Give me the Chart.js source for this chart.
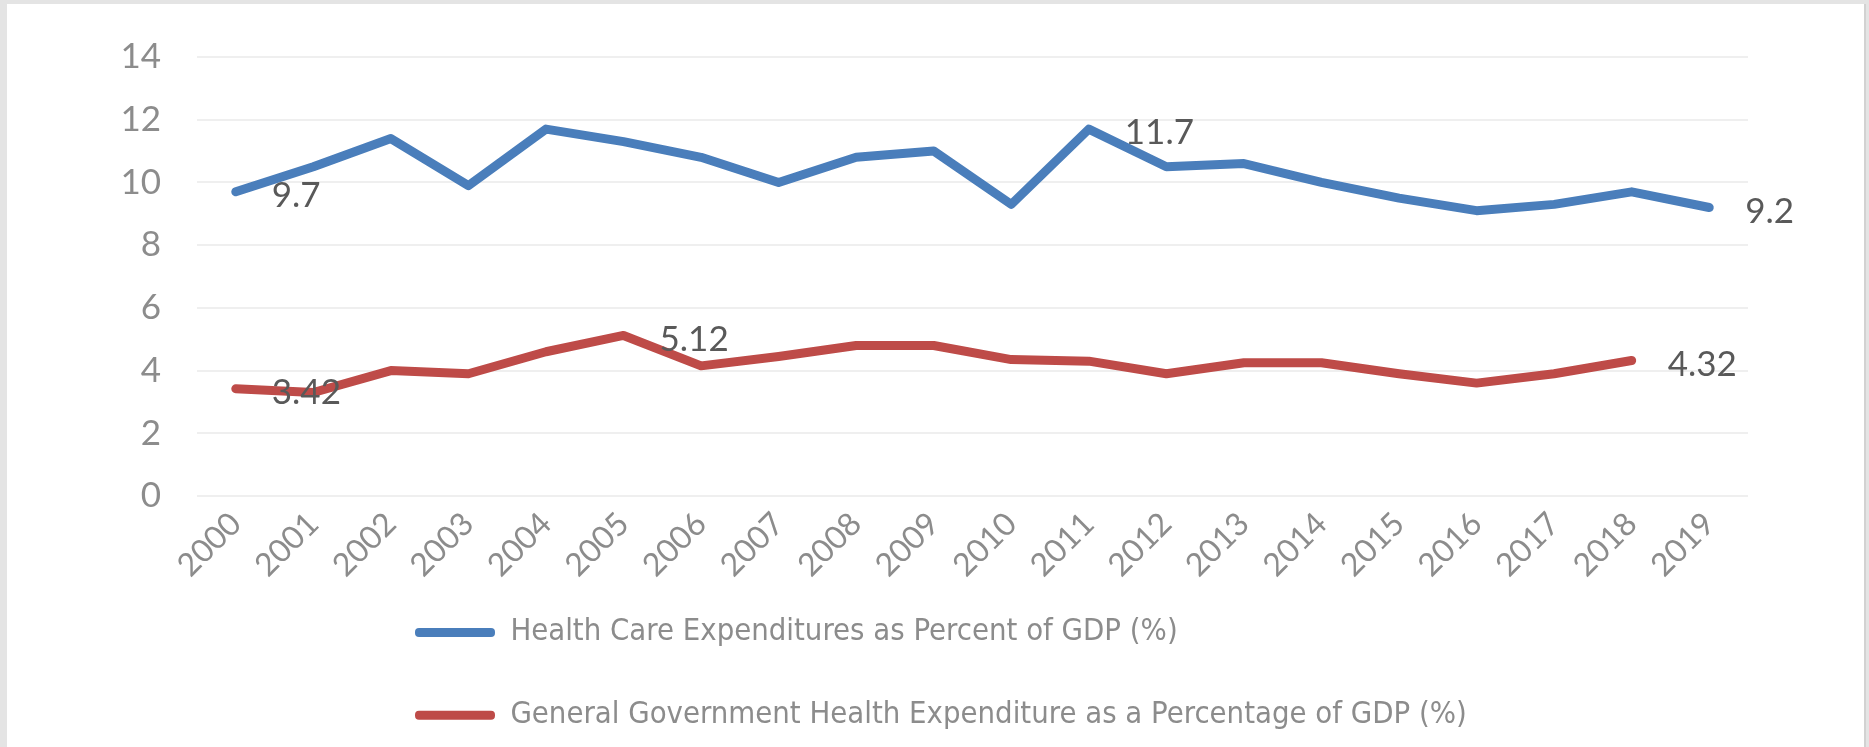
<!DOCTYPE html>
<html>
<head>
<meta charset="utf-8">
<script src="https://cdn.jsdelivr.net/npm/chart.js@4/dist/chart.umd.min.js"></script>
<style>
  html, body { margin: 0; padding: 0; background: #e4e4e4; }
  #frame { position: absolute; left: 7px; top: 4px; width: 1857px; height: 743px; background: #ffffff; border-right: 2px solid #d2d2d2; }
  #wrap { position: absolute; left: 0; top: 0; width: 1869px; height: 747px; }
</style>
</head>
<body>
<div id="frame"></div>
<div id="wrap"><canvas id="c"></canvas></div>
<script>
const years = ['2000','2001','2002','2003','2004','2005','2006','2007','2008','2009',
               '2010','2011','2012','2013','2014','2015','2016','2017','2018','2019'];
const healthCareExp = [9.7, 10.5, 11.4, 9.9, 11.7, 11.3, 10.8, 10.0, 10.8, 11.0,
                       9.3, 11.7, 10.5, 10.6, 10.0, 9.5, 9.1, 9.3, 9.7, 9.2];
const govHealthExp = [3.42, 3.3, 4.0, 3.9, 4.6, 5.12, 4.15, 4.45, 4.8, 4.8,
                      4.35, 4.3, 3.9, 4.25, 4.25, 3.9, 3.6, 3.9, 4.32, null];
const seriesNames = ['Health Care Expenditures as Percent of GDP (%)',
                     'General Government Health Expenditure as a Percentage of GDP (%)'];
const labelledIdx = [[0, 11, 19], [0, 5, 18]];
const yTicks = [0, 2, 4, 6, 8, 10, 12, 14];

const tickFont = { family: 'Lato, "Open Sans", sans-serif', size: 35 };

const dataLabelPlugin = {
  id: 'dataLabels',
  afterDatasetsDraw(chart) {
    const ctx = chart.ctx;
    ctx.save();
    ctx.font = '35px Lato, "Open Sans", sans-serif';
    ctx.fillStyle = '#595959';
    ctx.textAlign = 'left';
    ctx.textBaseline = 'middle';
    chart.data.datasets.forEach((ds, di) => {
      const meta = chart.getDatasetMeta(di);
      labelledIdx[di].forEach(j => {
        const pt = meta.data[j];
        if (!pt || ds.data[j] == null) return;
        ctx.fillText(String(ds.data[j]), pt.x + 36, pt.y + 4);
      });
    });
    ctx.restore();
  }
};

const legendPlace = {
  id: 'legendPlace',
  beforeLayout(chart) {
    const lg = chart.legend;
    if (lg && !lg._fitPatched) {
      const origFit = lg.fit.bind(lg);
      lg.fit = function () { origFit(); this.height = 141; };
      lg._fitPatched = true;
    }
  },
  beforeDraw(chart) {
    if (chart.legend) { chart.legend.left = 363; chart.legend.top = 565; }
  }
};

new Chart(document.getElementById('c'), {
  type: 'line',
  data: {
    labels: years,
    datasets: [
      { label: seriesNames[0], data: healthCareExp, borderColor: '#4A7EBB', backgroundColor: '#4A7EBB',
        borderWidth: 9, pointRadius: 0, tension: 0, borderCapStyle: 'round', borderJoinStyle: 'round' },
      { label: seriesNames[1], data: govHealthExp, borderColor: '#BE4B48', backgroundColor: '#BE4B48',
        borderWidth: 9, pointRadius: 0, tension: 0, borderCapStyle: 'round', borderJoinStyle: 'round' }
    ]
  },
  options: {
    responsive: true,
    maintainAspectRatio: false,
    animation: false,
    devicePixelRatio: 1,
    layout: { padding: { top: 48, right: 121, left: 0, bottom: 0 } },
    scales: {
      x: {
        type: 'category',
        offset: true,
        grid: { display: false, drawTicks: false },
        border: { display: false },
        ticks: { font: { family: 'Lato, "Open Sans", sans-serif', size: 32 }, color: '#8c8c8c',
                 maxRotation: 45, minRotation: 45, padding: 9 },
        afterFit(scale) { scale.height = 110; }
      },
      y: {
        min: 0, max: 14,
        afterBuildTicks(scale) { scale.ticks = yTicks.map(v => ({ value: v })); },
        grid: { color: '#efefef', lineWidth: 2, drawTicks: false },
        border: { display: false },
        ticks: { font: tickFont, color: '#8c8c8c', padding: 36 },
        afterFit(scale) { scale.width = 197; }
      }
    },
    plugins: {
      tooltip: { enabled: false },
      legend: {
        position: 'bottom',
        align: 'start',
        labels: {
          font: { family: '"Liberation Sans Narrow", "DejaVu Sans Condensed", sans-serif', size: 30.75 },
          color: '#8c8c8c',
          boxWidth: 80,
          boxHeight: 9,
          padding: 52,
          generateLabels(chart) {
            const items = Chart.defaults.plugins.legend.labels.generateLabels(chart);
            return items.map(it => Object.assign(it, { lineWidth: 0, fillStyle: it.strokeStyle, borderRadius: 4 }));
          }
        }
      }
    }
  },
  plugins: [dataLabelPlugin, legendPlace]
});
</script>
</body>
</html>
